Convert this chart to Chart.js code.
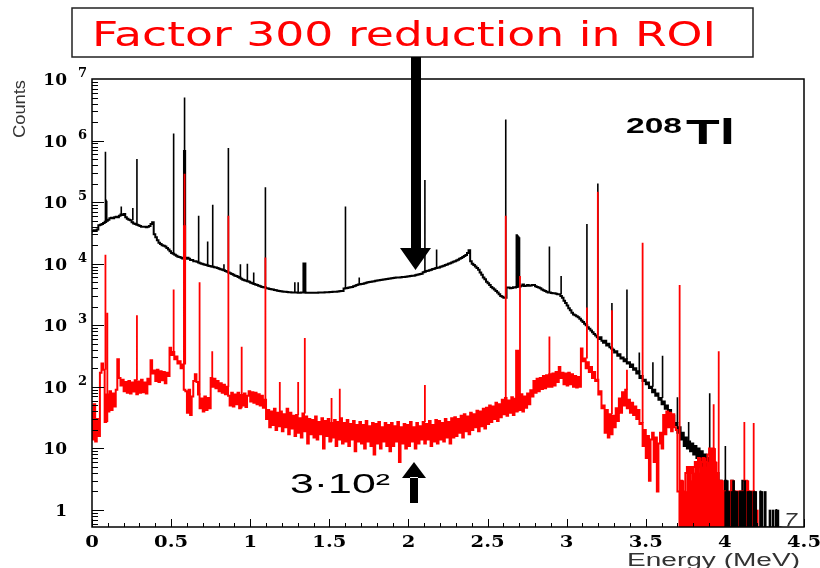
<!DOCTYPE html>
<html>
<head>
<meta charset="utf-8">
<script src="https://cdn.jsdelivr.net/npm/chart.js@4.4.1/dist/chart.umd.min.js"></script>
<style>
  html, body { margin: 0; padding: 0; background: #fff; }
  canvas { display: block; }
</style>
</head>
<body>
<canvas id="spectrum" width="820" height="568"></canvas>
<script>
// histogram bins of 10 keV, first bin starts at 0 MeV
var binWidth = 0.01;

// counts per bin, before the cut (black)
var blackCounts = [
  32000, 34000, 35000, 34000, 36000, 42000, 43000, 44000, 46000, 48000,
  50000, 52000, 55000, 56000, 55000, 57000, 58000, 57000, 60000, 63000,
  62000, 64000, 57000, 54000, 52000, 51000, 47000, 45000, 44000, 43000,
  42000, 41000, 40000, 40000, 40000, 39000, 40000, 41000, 44000, 47000,
  30000, 27000, 24000, 22000, 21000, 20000, 19500, 19000, 18000, 17000,
  16000, 15000, 14500, 14000, 13500, 13000, 12800, 12500, 12200, 12000,
  12000, 12500, 12000, 11500, 11500, 11000, 11000, 10800, 10500, 10200,
  10000, 9800, 9600, 9500, 9300, 9200, 9000, 8900, 8800, 8700,
  8500, 8300, 8100, 8000, 7800, 7600, 7400, 7200, 7000, 6800,
  6600, 6400, 6300, 6100, 5900, 5700, 5500, 5400, 5300, 5200,
  5100, 4900, 4800, 4700, 4600, 4500, 4400, 4300, 4200, 4150,
  4100, 4000, 3950, 3900, 3850, 3800, 3750, 3700, 3650, 3600,
  3570, 3550, 3520, 3500, 3480, 3450, 3430, 3420, 3400, 3400,
  3400, 3380, 3380, 3400, 3400, 3420, 3380, 3370, 3380, 3380,
  3380, 3380, 3390, 3380, 3400, 3400, 3420, 3410, 3430, 3450,
  3450, 3470, 3480, 3500, 3500, 3520, 3550, 3580, 3600, 3600,
  3950, 4000, 4050, 4100, 4150, 4200, 4300, 4400, 4500, 4600,
  4650, 4700, 4750, 4800, 4900, 5000, 5050, 5100, 5150, 5200,
  5300, 5350, 5400, 5450, 5500, 5550, 5600, 5650, 5700, 5750,
  5800, 5850, 5900, 5950, 6000, 6000, 6050, 6100, 6100, 6150,
  6200, 6250, 6300, 6350, 6400, 6500, 6600, 6700, 6800, 6900,
  7300, 7400, 7600, 7700, 7800, 8000, 8200, 8300, 8500, 8600,
  8700, 8900, 9100, 9300, 9500, 9700, 10000, 10200, 10500, 10800,
  11000, 11300, 11600, 12000, 12400, 12800, 13300, 13800, 15000, 16500,
  11000, 10000, 9500, 9000, 8500, 8000, 7200, 6600, 6000, 5600,
  5100, 4800, 4500, 4200, 4000, 3800, 3600, 3400, 3200, 3000,
  2900, 2800, 2800, 4100, 4100, 4000, 4050, 4150, 4100, 4200,
  4300, 4250, 4400, 4600, 4350, 4400, 4500, 4400, 4450, 4500,
  4500, 4300, 4200, 4100, 4000, 3800, 3700, 3600, 3500, 3400,
  3400, 3350, 3300, 3300, 3250, 3200, 3200, 3000, 2800, 2500,
  2300, 2100, 1900, 1750, 1600, 1500, 1450, 1400, 1350, 1280,
  1200, 1130, 1060, 1000, 930, 880, 820, 770, 720, 680,
  640, 600, 640, 560, 520, 560, 470, 500, 440, 420,
  400, 360, 380, 320, 340, 290, 300, 260, 280, 240,
  250, 210, 230, 190, 200, 165, 180, 140, 150, 125,
  130, 110, 118, 96, 100, 82, 90, 72, 78, 62,
  66, 52, 58, 44, 50, 38, 42, 30, 34, 24,
  26, 18, 22, 14, 18, 11, 15, 10, 13, 9,
  12, 8, 11, 7, 10, 6, 9, 5, 8, 5,
  7, 4, 6, 3, 5, 3, 4, 2, 3, 2,
  2, 3, 2, 0, 2, 3, 2, 2, 0, 2,
  2, 2, 3, 0, 2, 2, 2, 0, 2, 2,
  0, 0, 2, 2, 0, 2, 0, 0, 1, 0,
  1, 0, 1, 1, 0, 0, 0, 0, 0, 0,
  0, 0, 0, 0, 0, 0, 0, 0, 0, 0,
  0
];

// counts per bin, after the cut (red)
var redCounts = [
  40, 14, 52, 13, 30, 16, 170, 240, 190, 27,
  75, 40, 85, 42, 78, 48, 90, 280, 140, 105,
  130, 85, 120, 80, 125, 78, 118, 84, 128, 76,
  122, 80, 130, 82, 118, 78, 135, 110, 270, 165,
  185, 125, 190, 120, 180, 128, 175, 115, 170, 150,
  430, 330, 370, 280, 310, 240, 260, 200, 230, 90,
  85, 38, 90, 35, 70, 125, 160, 120, 75, 45,
  65, 40, 70, 42, 66, 45, 140, 100, 135, 95,
  125, 85, 115, 80, 108, 76, 100, 72, 50, 80,
  48, 75, 52, 80, 45, 74, 50, 78, 47, 72,
  85, 58, 82, 55, 80, 52, 76, 50, 72, 46,
  62, 30, 42, 22, 40, 24, 44, 20, 38, 23,
  40, 19, 36, 22, 44, 17, 38, 21, 34, 16,
  35, 18, 31, 15, 37, 19, 33, 12, 30, 17,
  29, 15, 33, 14, 27, 17, 31, 10, 28, 16,
  30, 13, 26, 15, 29, 11, 27, 14, 31, 12,
  26, 13, 29, 11, 25, 14, 28, 9, 24, 13,
  27, 12, 24, 10, 28, 13, 23, 11, 26, 8,
  25, 12, 27, 10, 22, 13, 26, 11, 24, 9,
  26, 11, 23, 13, 27, 6, 22, 12, 25, 10,
  24, 11, 27, 13, 22, 10, 26, 12, 23, 14,
  27, 12, 25, 14, 28, 11, 24, 13, 29, 12,
  28, 14, 26, 13, 30, 15, 27, 12, 31, 15,
  32, 16, 30, 18, 34, 15, 36, 19, 33, 17,
  38, 20, 36, 22, 41, 19, 40, 23, 44, 21,
  46, 25, 50, 27, 48, 30, 55, 28, 52, 32,
  62, 36, 66, 34, 60, 38, 68, 35, 64, 40,
  72, 42, 76, 40, 70, 46, 78, 52, 88, 70,
  125, 80, 135, 85, 140, 92, 150, 95, 155, 100,
  160, 100, 165, 105, 175, 120, 210, 140, 170, 110,
  165, 105, 170, 110, 160, 100, 150, 98, 145, 100,
  420, 260, 290, 200, 250, 175, 210, 140, 175, 125,
  130, 75, 85, 45, 50, 18, 42, 15, 36, 17,
  34, 22, 45, 28, 65, 38, 82, 50, 90, 45,
  62, 38, 55, 35, 48, 30, 42, 25, 26, 11,
  20, 7, 16, 3, 14, 18, 6, 15, 2, 12,
  18, 10, 35, 17, 40, 22, 38, 19, 36, 22,
  20, 2, 2, 3, 2, 2, 4, 5, 3, 5,
  4, 5, 6, 4, 7, 5, 6, 7, 5, 6,
  8, 10, 7, 10, 6, 4, 3, 2, 3, 2,
  2, 2, 1, 2, 2, 3, 2, 1, 2, 2,
  2, 1, 2, 2, 3, 2, 1, 2, 2, 1,
  1, 0, 0, 0, 0, 0, 0, 0, 0, 0,
  0, 0, 0, 0, 0, 0, 0, 0, 0, 0,
  0, 0, 0, 0, 0, 0, 0, 0, 0, 0,
  0
];

// gamma lines (MeV) and their peak heights
var blackPeakE = [0.085, 0.089, 0.093, 0.185, 0.258, 0.284, 0.516, 0.58, 0.585, 0.59,
  0.674, 0.731, 0.763, 0.834, 0.862, 0.938, 0.982, 1.022, 1.096, 1.282, 1.303,
  1.335, 1.34, 1.345, 1.35, 1.602, 1.689, 2.104, 2.178, 2.615,
  2.682, 2.687, 2.692, 2.697, 2.702, 2.891, 2.965, 3.128, 3.197, 3.286, 3.381,
  3.459, 3.545, 3.606, 3.7, 3.771, 3.904, 4.003];
var blackPeakTop = [660000, 110000, 105000, 85000, 80000, 500000, 1300000, 700000, 5000000, 700000,
  60000, 23000, 91000, 9800, 760000, 9800, 10000, 7200, 174000, 5000, 5000,
  10500, 10500, 10500, 10500, 85000, 6000, 229000, 17000, 2200000,
  30000, 30000, 29000, 28000, 27000, 19000, 6300, 44000, 200000, 2300, 3800,
  360, 250, 320, 68, 27, 79, 11];

var redPeakE = [0.004, 0.085, 0.097, 0.284, 0.516, 0.581, 0.585, 0.589, 0.68, 0.76,
  0.862, 0.946, 1.096, 1.187, 1.303, 1.345, 1.514, 1.566, 2.104, 2.615,
  2.68, 2.685, 2.69, 2.695, 2.705, 2.891, 3.128, 3.197, 3.286, 3.381, 3.48,
  3.714, 3.929, 3.961, 4.123, 4.182, 4.292, 4.362, 4.478];
var redPeakTop = [110000, 14000, 1600, 1450, 3800, 42000, 290000, 42000, 5000, 380,
  60000, 450, 12600, 120, 120, 620, 66, 93, 107, 60000,
  400, 400, 400, 400, 6300, 660, 1950, 148000, 1750, 190, 22000,
  4500, 52, 380, 27, 26, 6, 7, 7];

// axis labels
var xTickLabels = ['0', '0.5', '1', '1.5', '2', '2.5', '3', '3.5', '4', '4.5'];
var yTickExps = [0, 1, 2, 3, 4, 5, 6, 7];

// bins -> step points (x = lower bin edge)
function histPoints(counts, from, to) {
  var pts = [];
  for (var i = from; i < to; i++) pts.push({ x: i * binWidth, y: counts[i] });
  pts.push({ x: to * binWidth, y: counts[to - 1] });
  return pts;
}

// bins -> bar points at the bin centre (low-count tail drawn filled)
function tailBars(counts, from, to) {
  var pts = [];
  for (var i = from; i < to; i++) pts.push({ x: (i + 0.5) * binWidth, y: counts[i] });
  return pts;
}

// one vertical stroke per line, from the continuum up to the peak
function peakPoints(energies, tops, counts) {
  var pts = [];
  energies.forEach(function (e, k) {
    var base = e < binWidth / 2 ? 0 : counts[Math.floor(e / binWidth)];
    pts.push({ x: e, y: base }, { x: e, y: tops[k] }, { x: e, y: null });
  });
  return pts;
}

// draw text squeezed/stretched to a given width
function fitText(ctx, text, x, y, width, align) {
  var w = ctx.measureText(text).width;
  ctx.save();
  ctx.translate(x, y);
  ctx.scale(width / w, 1);
  ctx.textAlign = align || 'left';
  ctx.fillText(text, 0, 0);
  ctx.restore();
}

var decorations = {
  id: 'decorations',
  beforeDraw: function (chart) {
    var ctx = chart.ctx;
    ctx.save();
    ctx.fillStyle = '#fff';
    ctx.fillRect(0, 0, chart.width, chart.height);
    ctx.restore();
  },
  afterDatasetsDraw: function (chart) {
    var ctx = chart.ctx, a = chart.chartArea, xs = chart.scales.x, ys = chart.scales.y;
    ctx.save();
    ctx.strokeStyle = '#000';
    ctx.lineWidth = 1.5;
    ctx.strokeRect(a.left, a.top, a.right - a.left, a.bottom - a.top);

    // ticks inside the frame
    ctx.lineWidth = 1;
    ctx.beginPath();
    for (var t = 0; t <= 45; t++) {
      var px = Math.round(xs.getPixelForValue(t / 10)) + 0.5;
      var len = t % 5 === 0 ? 8 : 4;
      ctx.moveTo(px, a.bottom);
      ctx.lineTo(px, a.bottom - len);
    }
    for (var k = -1; k < 7; k++) {
      for (var m = 1; m < 10; m++) {
        var v = m * Math.pow(10, k);
        if (v < ys.min || v > ys.max) continue;
        var py = Math.round(ys.getPixelForValue(v)) + 0.5;
        ctx.moveTo(a.left, py);
        ctx.lineTo(a.left + (m === 1 ? 12 : 6), py);
      }
    }
    ctx.stroke();
    ctx.restore();
  },
  afterDraw: function (chart) {
    var ctx = chart.ctx, xs = chart.scales.x, ys = chart.scales.y;
    ctx.save();
    ctx.fillStyle = '#000';
    ctx.textBaseline = 'alphabetic';

    // x tick labels
    ctx.font = 'bold 17px "DejaVu Serif"';
    xTickLabels.forEach(function (lab) {
      var px = xs.getPixelForValue(parseFloat(lab));
      var w = ctx.measureText(lab).width * 1.15;
      fitText(ctx, lab, px, 547, w, 'center');
    });

    // y tick labels 1, 10, 10^n
    yTickExps.forEach(function (n) {
      var py = ys.getPixelForValue(Math.pow(10, n));
      ctx.font = 'bold 17px "DejaVu Serif"';
      ctx.textAlign = 'right';
      ctx.fillText(n === 0 ? '1' : '10', 67, py + 6);
      if (n >= 2) {
        ctx.font = 'bold 13px "DejaVu Serif"';
        ctx.textAlign = 'left';
        ctx.fillText(String(n), 78, py - 2);
      }
    });

    // axis titles
    ctx.fillStyle = '#333';
    ctx.font = '16px "Liberation Sans"';
    ctx.save();
    ctx.translate(25, 80);
    ctx.rotate(-Math.PI / 2);
    fitText(ctx, 'Counts', 0, 0, 58, 'right');
    ctx.restore();
    ctx.font = '18px "Liberation Sans"';
    fitText(ctx, 'Energy (MeV)', 800, 566, 173, 'right');
    ctx.font = 'italic 20px "Liberation Sans"';
    fitText(ctx, '7', 784, 527, 13, 'left');

    // title box
    ctx.strokeStyle = '#222';
    ctx.lineWidth = 1.5;
    ctx.strokeRect(72, 8, 681, 49);
    ctx.fillStyle = '#ff0000';
    ctx.font = '33px "DejaVu Sans"';
    fitText(ctx, 'Factor 300 reduction in ROI', 92, 46, 624, 'left');

    // isotope label
    ctx.fillStyle = '#000';
    ctx.font = 'bold 22px "Liberation Sans"';
    fitText(ctx, '208', 626, 133, 56, 'left');
    ctx.font = 'bold 35px "Liberation Sans"';
    fitText(ctx, 'Tl', 686, 144, 49, 'left');

    // big down arrow into the ROI
    ctx.beginPath();
    ctx.rect(411, 57, 10, 193);
    ctx.moveTo(400, 248);
    ctx.lineTo(431, 248);
    ctx.lineTo(415.5, 270);
    ctx.closePath();
    ctx.fill();

    // residual level after the cut
    ctx.font = '28px "Liberation Sans"';
    fitText(ctx, '3\u00b710\u00b2', 290, 493, 100, 'left');
    ctx.beginPath();
    ctx.rect(410, 477, 8, 26);
    ctx.moveTo(402, 478);
    ctx.lineTo(426, 478);
    ctx.lineTo(414, 462);
    ctx.closePath();
    ctx.fill();
    ctx.restore();
  }
};

var ctx = document.getElementById('spectrum').getContext('2d');
var chart = new Chart(ctx, {
  type: 'line',
  data: {
    datasets: [
      {
        // low-count tail of the black spectrum, filled bins
        type: 'bar',
        data: tailBars(blackCounts, 400, 436),
        backgroundColor: '#000', borderWidth: 0,
        barThickness: 2, grouped: false, order: 1
      },
      {
        type: 'bar',
        data: tailBars(redCounts, 371, 421),
        backgroundColor: '#ff0000', borderWidth: 0,
        barThickness: 2, grouped: false, order: 2
      },
      {
        data: peakPoints(redPeakE, redPeakTop, redCounts),
        borderColor: '#ff0000', borderWidth: 1.8, spanGaps: false, order: 3
      },
      {
        data: histPoints(redCounts, 0, redCounts.length),
        borderColor: '#ff0000', borderWidth: 2, stepped: 'after', order: 4
      },
      {
        data: peakPoints(blackPeakE, blackPeakTop, blackCounts),
        borderColor: '#000', borderWidth: 1.6, spanGaps: false, order: 5
      },
      {
        data: histPoints(blackCounts, 0, blackCounts.length),
        borderColor: '#000', borderWidth: 2, stepped: 'after', order: 6
      }
    ]
  },
  options: {
    responsive: false,
    animation: false,
    layout: { padding: { left: 92, right: 16, top: 79, bottom: 41 } },
    elements: { point: { radius: 0 }, line: { tension: 0 } },
    scales: {
      x: { type: 'linear', min: 0, max: 4.5, display: false, offset: false },
      y: { type: 'logarithmic', min: 0.53, max: 1e7, display: false }
    },
    plugins: { legend: { display: false }, tooltip: { enabled: false } }
  },
  plugins: [decorations]
});
</script>
</body>
</html>
